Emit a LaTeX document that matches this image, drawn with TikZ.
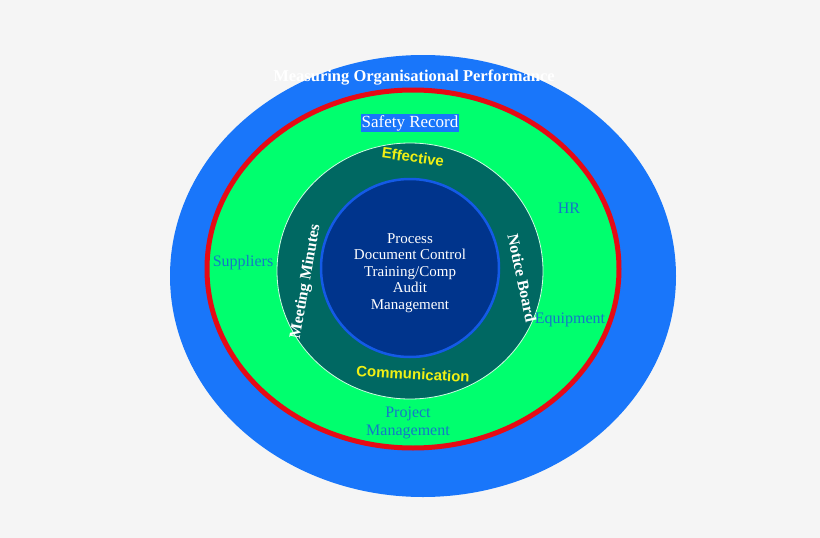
\documentclass[tikz,border=0pt]{standalone}
\usepackage{fontspec}
\setmainfont{Liberation Serif}
\setsansfont{Liberation Sans}
\definecolor{bgcolor}{RGB}{245,245,245}
\definecolor{outerblue}{RGB}{25,118,250}
\definecolor{ringred}{RGB}{230,10,20}
\definecolor{ringgreen}{RGB}{0,255,110}
\definecolor{tealring}{RGB}{0,104,98}
\definecolor{corenavy}{RGB}{0,52,140}
\definecolor{coreedge}{RGB}{20,90,230}
\definecolor{labelblue}{RGB}{20,120,200}
\definecolor{wordyellow}{RGB}{240,240,20}

\begin{document}
\begin{tikzpicture}[
    x=1pt, y=-1pt,
    item/.style={font=\fontsize{16}{18}\selectfont, text=labelblue, align=center},
    core/.style={font=\fontsize{15}{16.5}\selectfont, text=white, align=center},
    side/.style={font=\fontsize{16}{18}\selectfont\bfseries, text=white},
    word/.style={font=\sffamily\bfseries\fontsize{15}{17}\selectfont, text=wordyellow}
]
\fill[bgcolor] (0,0) rectangle (820,538);
\useasboundingbox (0,0) rectangle (820,538);

% Rings
\fill[outerblue] (423,276) ellipse [x radius=253, y radius=221];
\filldraw[fill=ringgreen, draw=ringred, line width=5pt] (413,269) ellipse [x radius=206, y radius=179];
\filldraw[fill=tealring, draw=white!80!ringgreen, line width=0.8pt] (410,271) ellipse [x radius=133, y radius=128];
\filldraw[fill=corenavy, draw=coreedge, line width=2.5pt] (410,268) circle [radius=89];

% Outer labels
\node[font=\fontsize{16.5}{18}\selectfont\bfseries, text=white] (perf) at (414,78) {Measuring Organisational Performance};
\node[fill=outerblue, text=white, inner sep=1pt, font=\fontsize{17}{19}\selectfont] (safety) at (410,123) {Safety Record};
\node[item] (hr) at (569,208) {HR};
\node[item] (suppliers) at (243,263) {Suppliers};
\node[item] (equipment) at (570,320) {Equipment};
\node[item] (project) at (408,423) {Project\\Management};

% Teal ring labels
\node[word, rotate=-8] (effective) at (413,157) {Effective};
\node[word, rotate=-3] (communication) at (413,374) {Communication};
\node[side, rotate=80] (minutes) at (306,282) {Meeting Minutes};
\node[side, rotate=-78] (notice) at (522,278) {Notice Board};

% Core
\node[core] (core) at (410,273) {Process\\Document Control\\Training/Comp\\Audit\\Management};
\end{tikzpicture}
\end{document}
